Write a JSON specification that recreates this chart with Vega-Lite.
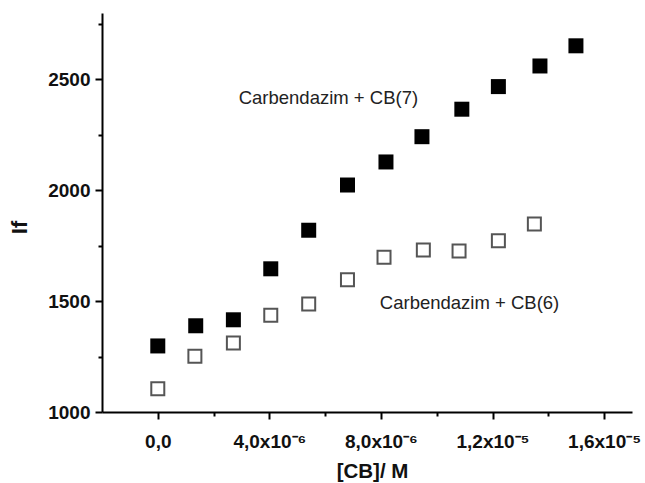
{
  "$schema": "https://vega.github.io/schema/vega-lite/v6.json",
  "width": 530,
  "height": 399,
  "autosize": "none",
  "padding": {"left": 102, "top": 13, "right": 13, "bottom": 71},
  "background": "white",
  "config": {"view": {"stroke": null}, "font": "Liberation Sans"},
  "datasets": {
    "points": [
      {"series": "CB(7)", "x": 0.0, "y": 1298},
      {"series": "CB(7)", "x": 1.36e-6, "y": 1389},
      {"series": "CB(7)", "x": 2.71e-6, "y": 1416},
      {"series": "CB(7)", "x": 4.05e-6, "y": 1646},
      {"series": "CB(7)", "x": 5.41e-6, "y": 1820},
      {"series": "CB(7)", "x": 6.80e-6, "y": 2024},
      {"series": "CB(7)", "x": 8.18e-6, "y": 2128},
      {"series": "CB(7)", "x": 9.47e-6, "y": 2242},
      {"series": "CB(7)", "x": 10.90e-6, "y": 2366},
      {"series": "CB(7)", "x": 12.21e-6, "y": 2468},
      {"series": "CB(7)", "x": 13.70e-6, "y": 2561},
      {"series": "CB(7)", "x": 14.99e-6, "y": 2652},
      {"series": "CB(6)", "x": 0.0, "y": 1105},
      {"series": "CB(6)", "x": 1.33e-6, "y": 1251},
      {"series": "CB(6)", "x": 2.71e-6, "y": 1311},
      {"series": "CB(6)", "x": 4.05e-6, "y": 1436},
      {"series": "CB(6)", "x": 5.41e-6, "y": 1487},
      {"series": "CB(6)", "x": 6.80e-6, "y": 1597},
      {"series": "CB(6)", "x": 8.11e-6, "y": 1698},
      {"series": "CB(6)", "x": 9.52e-6, "y": 1731},
      {"series": "CB(6)", "x": 10.80e-6, "y": 1726},
      {"series": "CB(6)", "x": 12.21e-6, "y": 1773},
      {"series": "CB(6)", "x": 13.50e-6, "y": 1848}
    ],
    "labels": [
      {"label": "Carbendazim + CB(7)", "x": 2.90e-6, "y": 2389},
      {"label": "Carbendazim + CB(6)", "x": 7.96e-6, "y": 1465}
    ]
  },
  "encoding": {
    "x": {
      "field": "x",
      "type": "quantitative",
      "scale": {"domain": [-2e-6, 1.7e-5], "nice": false, "zero": false},
      "axis": {
        "values": [0, 2e-6, 4e-6, 6e-6, 8e-6, 1e-5, 1.2e-5, 1.4e-5, 1.6e-5],
        "labelExpr": "round(datum.value*1e6) == 0 ? '0,0' : round(datum.value*1e6) == 4 ? '4,0x10⁻⁶' : round(datum.value*1e6) == 8 ? '8,0x10⁻⁶' : round(datum.value*1e6) == 12 ? '1,2x10⁻⁵' : round(datum.value*1e6) == 16 ? '1,6x10⁻⁵' : ''",
        "tickSize": {"condition": {"test": "round(datum.value*1e6) % 4 == 0", "value": 7}, "value": 4},
        "grid": false,
        "domainColor": "#000",
        "domainWidth": 2,
        "tickColor": "#000",
        "tickWidth": 2,
        "labelFont": "Liberation Sans",
        "labelFontSize": 19,
        "labelFontWeight": "bold",
        "labelColor": "#111",
        "labelPadding": 13,
        "labelFlush": false,
        "labelOverlap": false,
        "title": "[CB]/ M",
        "titleFont": "Liberation Sans",
        "titleFontSize": 20.5,
        "titleFontWeight": "bold",
        "titleColor": "#111",
        "titleX": 270,
        "titleY": 59,
        "titleAlign": "center",
        "titleBaseline": "middle"
      }
    },
    "y": {
      "field": "y",
      "type": "quantitative",
      "scale": {"domain": [1000, 2800], "nice": false, "zero": false},
      "axis": {
        "values": [1000, 1250, 1500, 1750, 2000, 2250, 2500, 2750],
        "labelExpr": "datum.value % 500 == 0 ? '' + datum.value : ''",
        "tickSize": {"condition": {"test": "datum.value % 500 == 0", "value": 7}, "value": 4},
        "grid": false,
        "domainColor": "#000",
        "domainWidth": 2,
        "tickColor": "#000",
        "tickWidth": 2,
        "labelFont": "Liberation Sans",
        "labelFontSize": 19,
        "labelFontWeight": "bold",
        "labelColor": "#111",
        "labelPadding": 5,
        "labelOverlap": false,
        "title": "If",
        "titleFont": "Liberation Sans",
        "titleFontSize": 22,
        "titleFontWeight": "bold",
        "titleColor": "#111",
        "titleAngle": 270,
        "titleX": -83,
        "titleY": 214,
        "titleAlign": "center",
        "titleBaseline": "middle"
      }
    }
  },
  "layer": [
    {
      "data": {"name": "points"},
      "transform": [{"filter": "datum.series === 'CB(7)'"}],
      "mark": {"type": "point", "shape": "square", "filled": true, "size": 225, "color": "#000", "opacity": 1}
    },
    {
      "data": {"name": "points"},
      "transform": [{"filter": "datum.series === 'CB(6)'"}],
      "mark": {"type": "point", "shape": "square", "filled": false, "size": 169, "stroke": "#555", "strokeWidth": 2, "fill": "white", "opacity": 1}
    },
    {
      "data": {"name": "labels"},
      "mark": {"type": "text", "align": "left", "baseline": "alphabetic", "fontSize": 18.5, "font": "Liberation Sans", "color": "#222"},
      "encoding": {"text": {"field": "label", "type": "nominal"}}
    }
  ]
}
